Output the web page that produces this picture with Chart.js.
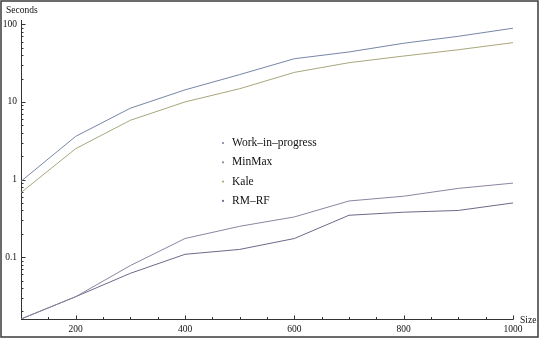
<!DOCTYPE html>
<html>
<head>
<meta charset="utf-8">
<script src="https://cdn.jsdelivr.net/npm/chart.js@4/dist/chart.umd.min.js"></script>
<style>
  body { margin: 0; background: #fff; }
  canvas { display: block; }
</style>
</head>
<body>
<canvas id="timings" width="540" height="340"></canvas>
<script>
let sizes = [100, 200, 300, 400, 500, 600, 700, 800, 900, 1000];
let workInProgress = [0.95, 3.6, 8.3, 14.3, 22.5, 36, 44, 57, 70, 89];
let minMax = [0.016, 0.031, 0.078, 0.174, 0.25, 0.33, 0.53, 0.61, 0.77, 0.9];
let kale = [0.68, 2.5, 5.8, 10, 14.8, 24, 32, 39, 47, 58];
let rmRf = [0.016, 0.031, 0.062, 0.109, 0.126, 0.174, 0.347, 0.38, 0.40, 0.5];

let seriesNames = ['Work\u2013in\u2013progress', 'MinMax', 'Kale', 'RM\u2013RF'];
let seriesValues = [workInProgress, minMax, kale, rmRf];
let colorHex = ['#7886a6', '#8e84a0', '#a9a77c', '#6c6a8a'];

let xMajor = [200, 400, 600, 800, 1000];
let xTickLabels = ['200', '400', '600', '800', '1000'];
let yMajor = [0.1, 1, 10, 100];
let yTickLabels = ['0.1', '1', '10', '100'];

let serif = '"Liberation Serif", "DejaVu Serif", serif';

// minor ticks, every 50 on x, 2..9 per decade on y
let xMinor = [];
for (let v = 150; v < 1000; v += 50) if (v % 200 !== 0) xMinor.push(v);
let yMinor = [];
for (let d = 0.01; d < 200; d *= 10) {
    for (let k = 2; k <= 9; k++) yMinor.push(+(k * d).toPrecision(3));
}

let mmaAxes = {
    id: 'mmaAxes',
    beforeDraw(chart) {
        let c = chart.ctx;
        c.save();
        c.fillStyle = '#fff';
        c.fillRect(0, 0, chart.width, chart.height);
        c.strokeStyle = '#3a3a3a';
        c.lineWidth = 1.5;
        c.strokeRect(1, 1, 537, 336);
        c.restore();
    },
    beforeDatasetsDraw(chart) {
        let c = chart.ctx;
        let x = chart.scales.x, y = chart.scales.y;
        let x0 = x.getPixelForValue(x.min), x1 = x.getPixelForValue(x.max);
        let y0 = y.getPixelForValue(y.min), y1 = y.top - 2;
        c.save();
        c.strokeStyle = '#333';
        c.lineWidth = 1;
        c.beginPath();
        c.moveTo(x0, y0 + 0.5); c.lineTo(x1 + 0.5, y0 + 0.5);
        c.moveTo(x0 + 0.5, y0 + 0.5); c.lineTo(x0 + 0.5, y1);
        // x ticks
        xMajor.forEach(v => {
            let px = Math.round(x.getPixelForValue(v)) + 0.5;
            c.moveTo(px, y0 + 0.5); c.lineTo(px, y0 - 3.5);
        });
        xMinor.forEach(v => {
            let px = Math.round(x.getPixelForValue(v)) + 0.5;
            c.moveTo(px, y0 + 0.5); c.lineTo(px, y0 - 2);
        });
        // y ticks
        yMajor.forEach(v => {
            let py = Math.round(y.getPixelForValue(v)) + 0.5;
            c.moveTo(x0, py); c.lineTo(x0 + 4.5, py);
        });
        yMinor.forEach(v => {
            if (v < y.min || v > y.max) return;
            let py = Math.round(y.getPixelForValue(v)) + 0.5;
            c.moveTo(x0, py); c.lineTo(x0 + 2.5, py);
        });
        c.stroke();

        c.fillStyle = '#111';
        c.font = '9.5px ' + serif;
        c.textBaseline = 'middle';
        c.textAlign = 'center';
        xMajor.forEach((v, i) => c.fillText(xTickLabels[i], x.getPixelForValue(v), y0 + 10));
        c.textAlign = 'right';
        yMajor.forEach((v, i) => c.fillText(yTickLabels[i], x0 - 4, y.getPixelForValue(v)));
        c.textAlign = 'left';
        c.fillText('Seconds', 6, 10);
        c.fillText('Size', 520, y0 + 1);
        c.restore();
    },
    afterDraw(chart) {
        let c = chart.ctx;
        c.save();
        c.font = '11.5px ' + serif;
        c.textBaseline = 'middle';
        chart.data.datasets.forEach((ds, i) => {
            let py = 143 + i * 19.3;
            c.fillStyle = ds.borderColor;
            c.beginPath();
            c.arc(223, py, 1.1, 0, Math.PI * 2);
            c.fill();
            c.fillStyle = '#111';
            c.fillText(ds.label, 232, py);
        });
        c.restore();
    }
};

let ctx = document.getElementById('timings').getContext('2d');

let timings = new Chart(ctx, {
    type: 'line',
    data: {
        datasets: seriesNames.map((name, i) => ({
            label: name,
            data: sizes.map((s, j) => ({ x: s, y: seriesValues[i][j] })),
            borderColor: colorHex[i],
            borderWidth: 1,
            pointRadius: 0,
            tension: 0,
            fill: false
        }))
    },
    options: {
        responsive: false,
        animation: false,
        devicePixelRatio: 1,
        layout: {
            padding: { left: 21, right: 27, top: 22, bottom: 21 }
        },
        scales: {
            x: { type: 'linear', min: 100, max: 1000, display: false },
            y: { type: 'logarithmic', min: 0.016, max: 107, display: false }
        },
        plugins: {
            legend: { display: false },
            tooltip: { enabled: false }
        }
    },
    plugins: [mmaAxes]
});
</script>
</body>
</html>
